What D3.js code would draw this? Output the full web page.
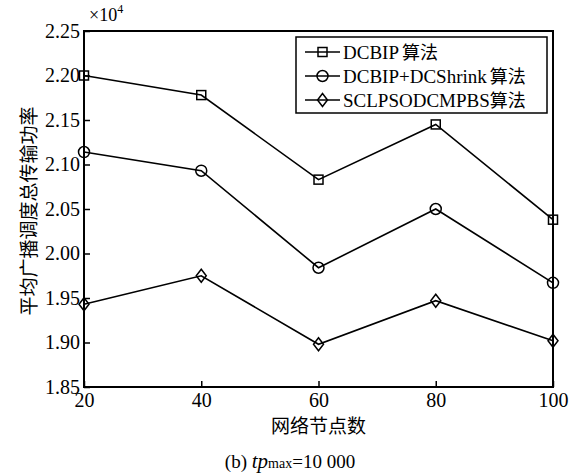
<!DOCTYPE html>
<html>
<head>
<meta charset="utf-8">
<script src="https://cdn.jsdelivr.net/npm/d3@7"></script>
<style>
  body { margin: 0; background: #fff; }
  svg text { fill: #000; }
</style>
</head>
<body>
<div id="chart"></div>
<script>
const nodes = [20, 40, 60, 80, 100];
const dcbip = [2.200, 2.178, 2.083, 2.145, 2.038];
const dcshrink = [2.114, 2.093, 1.984, 2.050, 1.967];
const sclpso = [1.943, 1.975, 1.898, 1.947, 1.902];
const yTicks = [1.85, 1.90, 1.95, 2.00, 2.05, 2.10, 2.15, 2.20, 2.25];
const seriesNames = ['DCBIP', 'DCBIP+DCShrink', 'SCLPSODCMPBS'];
const markers = ['square', 'circle', 'diamond'];

const width = 572, height = 476;
const margin = { left: 84, right: 19, top: 31, bottom: 89 };
const serif = '"Liberation Serif", "DejaVu Serif", serif';
const cjk = '"Noto Sans CJK SC", sans-serif';

const svg = d3.select('#chart').append('svg')
    .attr('width', width)
    .attr('height', height);

const x = d3.scaleLinear().domain([20, 100]).range([margin.left, width - margin.right]);
const y = d3.scaleLinear().domain([1.85, 2.25]).range([height - margin.bottom, margin.top]);

// axes with inward ticks
svg.append('g')
    .attr('transform', `translate(0,${y(1.85)})`)
    .call(d3.axisBottom(x).tickValues(nodes).tickSizeInner(-6).tickSizeOuter(0).tickPadding(6))
    .call(g => g.select('.domain').remove())
    .call(g => g.selectAll('line').attr('stroke', '#000').attr('stroke-width', 1.5))
    .call(g => g.selectAll('text').style('font-family', serif).style('font-size', '20px').attr('dy', '0.72em'));

svg.append('g')
    .attr('transform', `translate(${x(20)},0)`)
    .call(d3.axisLeft(y).tickValues(yTicks).tickFormat(d3.format('.2f')).tickSizeInner(-6).tickSizeOuter(0).tickPadding(4))
    .call(g => g.select('.domain').remove())
    .call(g => g.selectAll('line').attr('stroke', '#000').attr('stroke-width', 1.5))
    .call(g => g.selectAll('text').style('font-family', serif).style('font-size', '20px'));

// frame
svg.append('rect')
    .attr('x', x(20)).attr('y', y(2.25))
    .attr('width', x(100) - x(20)).attr('height', y(1.85) - y(2.25))
    .attr('fill', 'none').attr('stroke', '#000').attr('stroke-width', 2);

function drawMarker(g, kind, cx, cy) {
    if (kind === 'square') {
        g.append('rect').attr('x', cx - 4.5).attr('y', cy - 4.5).attr('width', 9).attr('height', 9)
            .attr('fill', 'none').attr('stroke', '#000').attr('stroke-width', 1.5);
    } else if (kind === 'circle') {
        g.append('circle').attr('cx', cx).attr('cy', cy).attr('r', 5.5)
            .attr('fill', 'none').attr('stroke', '#000').attr('stroke-width', 1.5);
    } else {
        g.append('path').attr('d', `M${cx},${cy - 6.5}L${cx + 5},${cy}L${cx},${cy + 6.5}L${cx - 5},${cy}Z`)
            .attr('fill', 'none').attr('stroke', '#000').attr('stroke-width', 1.5);
    }
}

const line = d3.line().x((d, i) => x(nodes[i])).y(d => y(d));
[dcbip, dcshrink, sclpso].forEach((vals, k) => {
    svg.append('path').datum(vals)
        .attr('d', line)
        .attr('fill', 'none').attr('stroke', '#000').attr('stroke-width', 1.6);
    const g = svg.append('g');
    vals.forEach((v, i) => drawMarker(g, markers[k], x(nodes[i]), y(v)));
});

// legend
const lg = svg.append('g');
lg.append('rect').attr('x', 296).attr('y', 37).attr('width', 251).attr('height', 76)
    .attr('fill', '#fff').attr('stroke', '#000').attr('stroke-width', 1.5);
seriesNames.forEach((name, i) => {
    const cy = 52 + i * 24;
    lg.append('line').attr('x1', 305).attr('x2', 340).attr('y1', cy).attr('y2', cy)
        .attr('stroke', '#000').attr('stroke-width', 1.5);
    drawMarker(lg, markers[i], 322.5, cy);
    const t = lg.append('text').attr('x', 343).attr('y', cy).attr('dy', '0.35em')
        .style('font-family', serif).style('font-size', '19px');
    t.append('tspan').text(name);
    t.append('tspan').style('font-family', cjk).style('font-size', '18px').attr('dx', i === 2 ? 0 : 3).text('算法');
    // squeeze to fit inside the legend frame like the reference
    const w = t.node().getComputedTextLength();
    const maxW = 540 - 343;
    if (w > maxW) t.attr('textLength', maxW).attr('lengthAdjust', 'spacingAndGlyphs');
});

// exponent
const ex = svg.append('text').attr('x', 89).attr('y', 21).style('font-family', serif).style('font-size', '18px');
ex.append('tspan').text('×10');
ex.append('tspan').style('font-size', '12px').attr('dy', -8).text('4');

// axis titles
svg.append('text')
    .attr('transform', `translate(36,${y(2.05) + 2}) rotate(-90)`)
    .attr('text-anchor', 'middle').style('font-family', cjk).style('font-size', '19px')
    .text('平均广播调度总传输功率');

svg.append('text')
    .attr('x', (x(20) + x(100)) / 2).attr('y', 433)
    .attr('text-anchor', 'middle').style('font-family', cjk).style('font-size', '19px')
    .text('网络节点数');

const cap = svg.append('text').attr('x', 290).attr('y', 468).attr('text-anchor', 'middle')
    .style('font-family', serif).style('font-size', '19px');
cap.append('tspan').text('(b) ');
cap.append('tspan').style('font-style', 'italic').style('font-size', '21px').text('tp');
cap.append('tspan').style('font-size', '14px').text('max');
cap.append('tspan').text('=10 000');
</script>
</body>
</html>
